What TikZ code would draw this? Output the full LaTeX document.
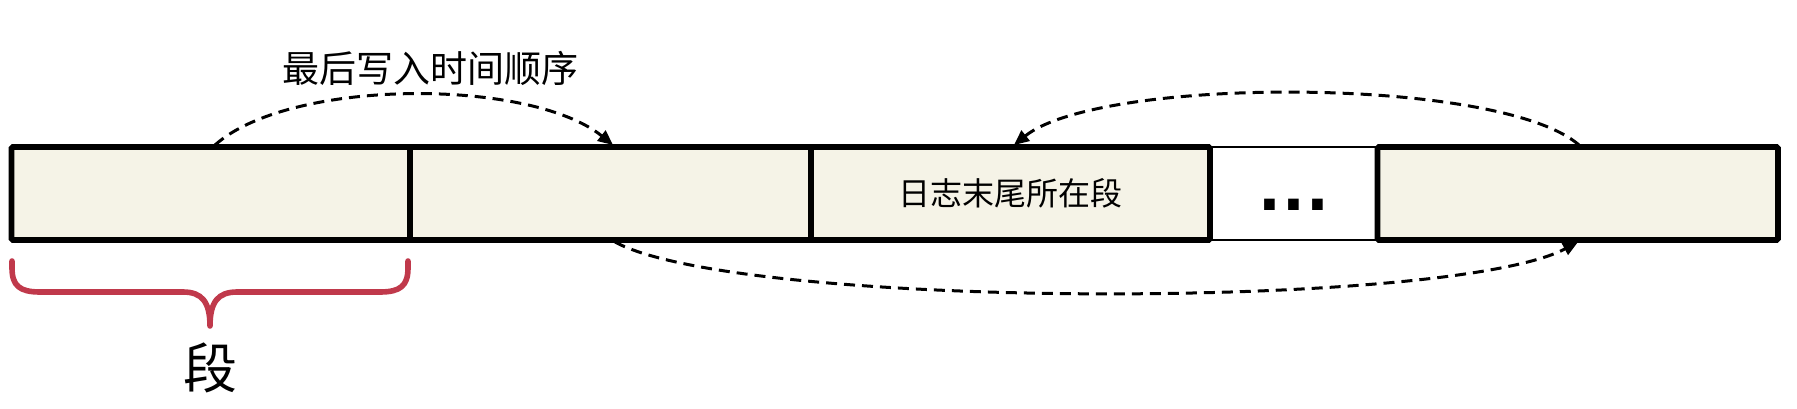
\documentclass[tikz,border=0pt]{standalone}
\usepackage{fontspec}
\newfontfamily\cjk{Noto Sans CJK SC}
\newfontfamily\dotsfont{DejaVu Sans}
\usetikzlibrary{arrows.meta}
\definecolor{segfill}{HTML}{F5F3E7}
\definecolor{bracered}{HTML}{C0394B}
\begin{document}
\begin{tikzpicture}[x=1pt,y=-1pt,
  segbox/.style={draw=black,line width=5.8pt,fill=segfill,rounded corners=1.5pt,
    minimum height=93pt,inner sep=0pt,anchor=center},
  gapbox/.style={draw=black,line width=2.8pt,fill=white,
    minimum height=93pt,inner sep=0pt,anchor=center},
  flow/.style={line width=3pt,dash pattern=on 11pt off 7pt,
    -{Triangle[length=15pt,width=13pt]}},
  brace/.style={draw=bracered,line width=5.6pt,line cap=round,line join=round}]
\useasboundingbox (0,0) rectangle (1797,409);
\node[gapbox,minimum width=167.5pt] (gap) at (1293.75,193.5) {};
\node[segbox,minimum width=398.5pt] (s1) at (210.75,193.5) {};
\node[segbox,minimum width=401pt] (s2) at (610.5,193.5) {};
\node[segbox,minimum width=399pt,font=\cjk\fontsize{32}{36}\selectfont] (s3) at (1010.5,193.5) {日志末尾所在段};
\node[segbox,minimum width=400.5pt] (s5) at (1577.75,193.5) {};
\node[font=\dotsfont\bfseries\fontsize{60}{60}\selectfont,inner sep=0pt] (dots) at (1294,205) {.\kern1pt.\kern1pt.};
\node[font=\cjk\fontsize{37}{42}\selectfont,inner sep=0pt] (title) at (430,68) {最后写入时间顺序};
\node[font=\cjk\fontsize{54}{60}\selectfont,inner sep=0pt] (seg) at (210,368) {段};
\coordinate (a1s) at (215,145);
\coordinate (a1e) at (613,145);
\coordinate (a2s) at (1579,145);
\coordinate (a2e) at (1014,145);
\coordinate (a3s) at (615,242);
\coordinate (a3e) at (1578,242);
\draw[flow] (a1s) .. controls (290,78) and (530,78) .. (a1e);
\draw[flow] (a2s) .. controls (1500,76) and (1100,76) .. (a2e);
\draw[flow] (a3s) .. controls (740,310) and (1450,310) .. (a3e);
\coordinate (bl) at (12,261);
\coordinate (bt) at (210,326);
\coordinate (br) at (408,261);
\draw[brace] (bl) -- (12,268) .. controls (12,286) and (20,292) .. (40,292) -- (183,292)
  .. controls (202,292) and (210,302) .. (bt)
  .. controls (210,302) and (218,292) .. (237,292) -- (380,292)
  .. controls (400,292) and (408,286) .. (408,268) -- (br);
\end{tikzpicture}
\end{document}
